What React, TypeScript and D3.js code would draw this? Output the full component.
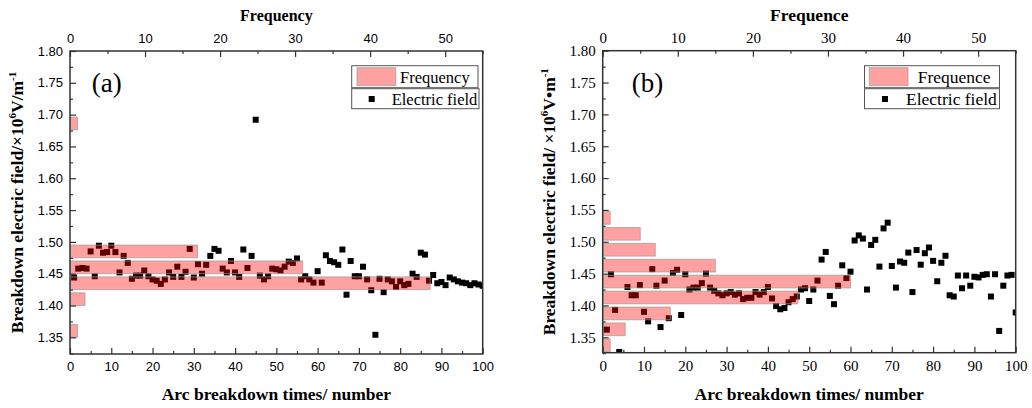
import React, { useEffect, useRef } from "react";
import * as d3 from "d3";

// breakdown field (x10^6 V/m) for arc breakdown number 1..100
const fieldA = [
  1.444, 1.458, 1.459, 1.458, 1.485, 1.446, 1.494, 1.483, 1.484, 1.494,
  1.484, 1.452, 1.478, 1.467, 1.442, 1.447, 1.447, 1.455, 1.446, 1.441,
  1.439, 1.434, 1.441, 1.452, 1.445, 1.461, 1.445, 1.453, 1.489, 1.444,
  1.465, 1.45, 1.464, 1.478, 1.489, 1.486, 1.458, 1.452, 1.47, 1.452,
  1.445, 1.488, 1.459, 1.478, 1.692, 1.447, 1.441, 1.446, 1.458, 1.457,
  1.455, 1.461, 1.469, 1.467, 1.474, 1.441, 1.446, 1.441, 1.436, 1.454,
  1.436, 1.479, 1.47, 1.468, 1.464, 1.488, 1.417, 1.47, 1.446, 1.446,
  1.461, 1.441, 1.424, 1.354, 1.442, 1.421, 1.441, 1.438, 1.429, 1.438,
  1.432, 1.434, 1.45, 1.445, 1.483, 1.48, 1.439, 1.448, 1.435, 1.437,
  1.432, 1.444, 1.441, 1.438, 1.436, 1.435, 1.432, 1.435, 1.433, 1.431,
];
const fieldB = [
  1.362, 1.449, 1.393, 1.327, 1.31, 1.429, 1.416, 1.416, 1.432, 1.39,
  1.375, 1.457, 1.431, 1.366, 1.439, 1.38, 1.451, 1.456, 1.385, 1.449,
  1.425, 1.428, 1.428, 1.435, 1.45, 1.428, 1.423, 1.419, 1.416, 1.419,
  1.421, 1.417, 1.419, 1.41, 1.412, 1.412, 1.421, 1.417, 1.421, 1.429,
  1.411, 1.399, 1.394, 1.396, 1.405, 1.41, 1.414, 1.425, 1.427, 1.407,
  1.425, 1.439, 1.472, 1.484, 1.415, 1.402, 1.431, 1.463, 1.443, 1.453,
  1.502, 1.51, 1.505, 1.425, 1.495, 1.503, 1.461, 1.521, 1.53, 1.462,
  1.428, 1.469, 1.467, 1.483, 1.421, 1.487, 1.464, 1.482, 1.491, 1.47,
  1.438, 1.467, 1.478, 1.416, 1.414, 1.447, 1.427, 1.447, 1.431, 1.445,
  1.444, 1.448, 1.449, 1.414, 1.449, 1.36, 1.431, 1.447, 1.448, 1.389,
];

// histogram bins (center of each bin) and counts
const binCentersA = [1.36, 1.41, 1.435, 1.46, 1.485, 1.686];
const countsA = [1, 2, 48, 31, 17, 1];
const binCentersB = [1.3375, 1.3625, 1.3875, 1.4125, 1.4375, 1.4625, 1.4875, 1.5125, 1.5375];
const countsB = [1, 3, 9, 26, 33, 15, 7, 5, 1];
const binWidth = 0.025;

const yTicks = [1.35, 1.4, 1.45, 1.5, 1.55, 1.6, 1.65, 1.7, 1.75, 1.8];
const xTicks = [0, 10, 20, 30, 40, 50, 60, 70, 80, 90, 100];
const freqTicks = [0, 10, 20, 30, 40, 50];

const serif = "'Liberation Serif', 'Times New Roman', serif";
const sans = "'Liberation Sans', Arial, sans-serif";

const panels = [
  {
    left: 70, right: 482.7, top: 51, bottom: 354, yMin: 1.3238,
    field: fieldA, bins: binCentersA, counts: countsA,
    tickFont: sans, tickSize: 13, titleSize: 16, axisTitleSize: 17.5,
    label: "(a)", labelX: 91.7, topTitle: "Frequency",
    yTitleA: "Breakdown electric field/×10", yTitleB: "V/m", yTitleX: 17,
    legend: { x: 351.7, w1: 126.3, w2: 127.3, sw: 357, txt1: 400, mk: 371.7, txt2: 391.7, fs: 16.5 },
  },
  {
    left: 602.7, right: 1015.7, top: 50.7, bottom: 352.7, yMin: 1.3258,
    field: fieldB, bins: binCentersB, counts: countsB,
    tickFont: serif, tickSize: 15, titleSize: 17.5, axisTitleSize: 17.5,
    label: "(b)", labelX: 631.7, topTitle: "Frequence",
    yTitleA: "Breakdown electric field/ ×10", yTitleB: "V•m", yTitleX: 549,
    legend: { x: 864.5, w1: 135, w2: 135, sw: 869.3, txt1: 917.7, mk: 885, txt2: 906, fs: 17.5 },
  },
];

const App = () => {
  const ref = useRef<SVGSVGElement>(null);

  useEffect(() => {
    const svg = d3.select(ref.current);
    svg.selectAll("*").remove();

    panels.forEach((p, pi) => {
      const x = d3.scaleLinear().domain([0, 100]).range([p.left, p.right]);
      const xf = d3.scaleLinear().domain([0, 55]).range([p.left, p.right]);
      const y = d3.scaleLinear().domain([p.yMin, 1.8]).range([p.bottom, p.top]);
      const g = svg.append("g");

      const clipId = "clip" + pi;
      svg.append("clipPath").attr("id", clipId)
        .append("rect")
        .attr("x", p.left).attr("y", p.top)
        .attr("width", p.right - p.left).attr("height", p.bottom - p.top);

      const plot = g.append("g").attr("clip-path", `url(#${clipId})`);

      // scatter points
      plot.selectAll("rect.pt")
        .data(p.field)
        .enter()
        .append("rect")
        .attr("x", (d, i) => x(i + 1) - 3)
        .attr("y", (d) => y(d) - 3)
        .attr("width", 6)
        .attr("height", 6)
        .attr("fill", "#000");

      // histogram bars on top (transparent red)
      plot.selectAll("rect.bar")
        .data(p.bins)
        .enter()
        .append("rect")
        .attr("x", xf(0))
        .attr("y", (d) => y(d + binWidth * 0.4))
        .attr("width", (d, i) => xf(p.counts[i]) - xf(0))
        .attr("height", (d) => y(d - binWidth * 0.4) - y(d + binWidth * 0.4))
        .attr("fill", "#ff0000")
        .attr("fill-opacity", 0.37)
        .attr("stroke", "#9a9a9a")
        .attr("stroke-opacity", 0.7)
        .attr("stroke-width", 1);

      // frame
      g.append("rect")
        .attr("x", p.left).attr("y", p.top)
        .attr("width", p.right - p.left).attr("height", p.bottom - p.top)
        .attr("fill", "none").attr("stroke", "#333").attr("stroke-width", 1.5);

      const styleAxis = (sel) => {
        sel.select(".domain").remove();
        sel.selectAll("line").attr("stroke", "#333").attr("stroke-width", 1.2);
        sel.selectAll("text")
          .attr("font-family", p.tickFont)
          .attr("font-size", p.tickSize)
          .attr("fill", "#000");
      };

      // y axis
      g.append("g").attr("transform", `translate(${p.left},0)`)
        .call(d3.axisLeft(y).tickValues(yTicks).tickSize(-6).tickPadding(7).tickFormat(d3.format(".2f")))
        .call(styleAxis);
      g.append("g").attr("transform", `translate(${p.left},0)`)
        .call(d3.axisLeft(y).tickValues(yTicks.map((t) => t - 0.025)).tickSize(-3).tickFormat(() => ""))
        .call(styleAxis);

      // bottom axis
      g.append("g").attr("transform", `translate(0,${p.bottom})`)
        .call(d3.axisBottom(x).tickValues(xTicks).tickSize(-6).tickPadding(8))
        .call(styleAxis);
      g.append("g").attr("transform", `translate(0,${p.bottom})`)
        .call(d3.axisBottom(x).tickValues(xTicks.slice(1).map((t) => t - 5)).tickSize(-3).tickFormat(() => ""))
        .call(styleAxis);

      // top axis (frequency)
      g.append("g").attr("transform", `translate(0,${p.top})`)
        .call(d3.axisTop(xf).tickValues(freqTicks).tickSize(-6).tickPadding(8))
        .call(styleAxis);
      g.append("g").attr("transform", `translate(0,${p.top})`)
        .call(d3.axisTop(xf).tickValues([5, 15, 25, 35, 45, 55]).tickSize(-3).tickFormat(() => ""))
        .call(styleAxis);

      // titles
      g.append("text")
        .attr("x", (p.left + p.right) / 2).attr("y", 21)
        .attr("text-anchor", "middle")
        .attr("font-family", serif).attr("font-weight", "bold")
        .attr("font-size", p.titleSize)
        .text(p.topTitle);

      g.append("text")
        .attr("x", (p.left + p.right) / 2).attr("y", 400)
        .attr("text-anchor", "middle")
        .attr("font-family", serif).attr("font-weight", "bold")
        .attr("font-size", p.axisTitleSize)
        .text("Arc breakdown times/ number");

      const yt = g.append("text")
        .attr("transform", `translate(${p.yTitleX + 6},${(p.top + p.bottom) / 2}) rotate(-90)`)
        .attr("text-anchor", "middle")
        .attr("font-family", serif).attr("font-weight", "bold")
        .attr("font-size", p.axisTitleSize);
      yt.append("tspan").text(p.yTitleA);
      yt.append("tspan").attr("dy", -7).attr("font-size", 11).text("6");
      yt.append("tspan").attr("dy", 7).text(p.yTitleB);
      yt.append("tspan").attr("dy", -7).attr("font-size", 11).text("-1");

      g.append("text")
        .attr("x", p.labelX).attr("y", 92)
        .attr("font-family", serif).attr("font-size", 27)
        .text(p.label);

      // legend
      const L = p.legend;
      g.append("rect").attr("x", L.x).attr("y", 65.7).attr("width", L.w1).attr("height", 22)
        .attr("fill", "#fff").attr("stroke", "#555").attr("stroke-width", 1);
      g.append("rect").attr("x", L.x).attr("y", 88.7).attr("width", L.w2).attr("height", 20)
        .attr("fill", "#fff").attr("stroke", "#555").attr("stroke-width", 1);
      g.append("rect").attr("x", L.sw).attr("y", 67.7).attr("width", 38.7).attr("height", 18)
        .attr("fill", "#ff0000").attr("fill-opacity", 0.37)
        .attr("stroke", "#9a9a9a").attr("stroke-opacity", 0.7);
      g.append("text").attr("x", L.txt1).attr("y", 83)
        .attr("font-family", serif).attr("font-size", L.fs).text(p.topTitle);
      g.append("rect").attr("x", L.mk - 3).attr("y", 96).attr("width", 6).attr("height", 6).attr("fill", "#000");
      g.append("text").attr("x", L.txt2).attr("y", 104.5)
        .attr("font-family", serif).attr("font-size", L.fs).text("Electric field");
    });
  }, []);

  return (
    <svg
      ref={ref}
      width={1032}
      height={408}
      style={{ position: "absolute", left: 0, top: 0, background: "#fff" }}
    />
  );
};

export default App;
